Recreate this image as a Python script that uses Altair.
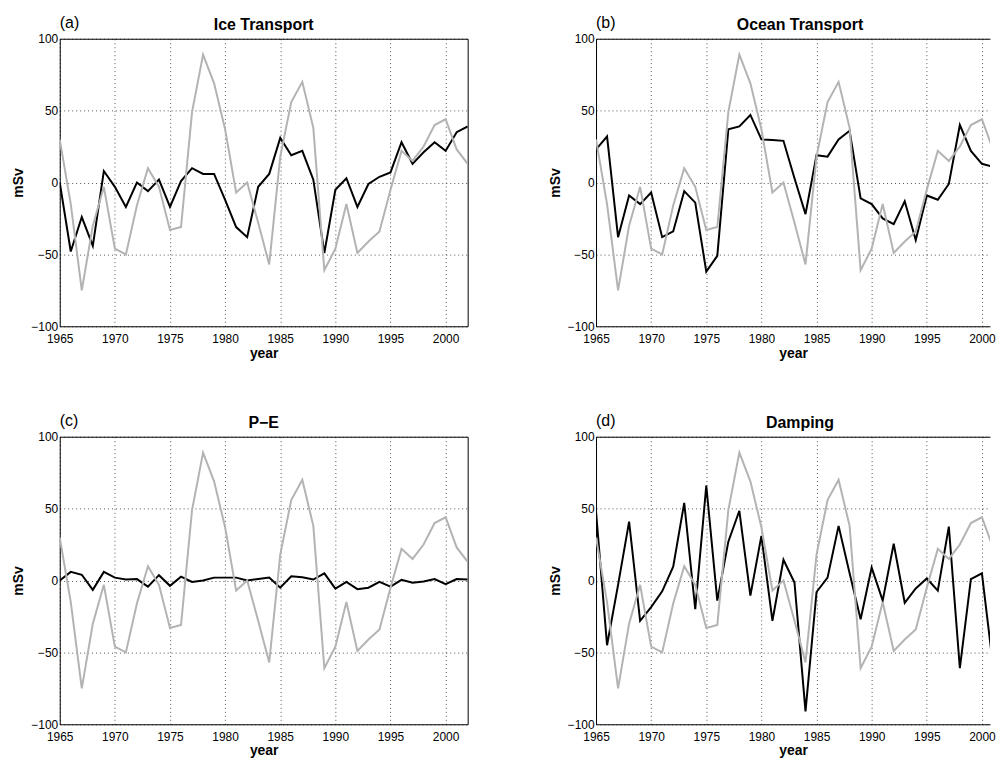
import altair as alt
import pandas as pd

# annual anomalies, mSv
YEARS = list(range(1965, 2003))

# grey curve, repeated in every panel
TOTAL = [30, -15, -75, -30, -3, -46, -50, -16, 10, -3, -33, -31, 49, 89, 69, 37,
         -7, 0, -28, -57, 18, 56, 70, 38, -61, -46, -15, -49, -41, -34, -5, 22,
         15, 25, 40, 44, 23, 13]

ICE = [0, -48, -24, -44, 8, -3, -17, 0, -6, 2, -17, 1, 10, 6, 6, -12, -31, -38,
       -3, 6, 31, 19, 22, 2, -49, -5, 3, -17, -1, 4, 7, 28, 13, 21, 28, 22, 35, 39]

OCEAN = [23, 32, -38, -9, -15, -7, -38, -34, -6, -14, -62, -51, 37, 39, 47, 30,
         29.5, 29, 3, -22, 19, 18, 30, 36, -11, -15, -25, -29, -13, -40, -9, -12,
         -1, 40, 22, 13, 11, 0]

PE = [0, 6, 4, -6.5, 6, 2, 0.7, 1, -4.3, 3.7, -3.7, 2.7, -1, 0, 2, 2, 2, 0, 1, 2,
      -5, 3, 2.3, 0.7, 5, -5.7, -1, -6, -5, -1, -4.3, 0.5, -1.6, -0.7, 1, -2.5, 1, 0.7]

DAMP = [48, -45, -3, 41, -28, -18.5, -7.5, 9.6, 54, -20, 66, -14, 27, 48.5, -10.5,
        31, -28, 14.4, -1.4, -91, -8, 2, 38, 5, -27, 9, -14, 25.6, -15.5, -5.5, 1.4,
        -7, 37.5, -61, 1, 5, -59, -1]

XTICKS = [1965, 1970, 1975, 1980, 1985, 1990, 1995, 2000]
YTICKS = [-100, -50, 0, 50, 100]

GREY = "#b3b3b3"
FONT = "Liberation Sans"
W, H = 410, 289
# the right-hand column runs off the edge of the page in the original figure
W_CUT = 396
X_CUT = 1965 + 37 * W_CUT / W


def panel(tag, title, term, cut=False, title_pad=2):
    width = W_CUT if cut else W
    xmax = X_CUT if cut else 2002
    df = pd.DataFrame({"year": YEARS, "total": TOTAL, "term": term})
    xs = alt.Scale(domain=[1965, xmax], nice=False, zero=False)
    ys = alt.Scale(domain=[-100, 100], nice=False)
    base = alt.Chart(df)

    black = base.mark_line(color="black", strokeWidth=2, clip=True).encode(
        x=alt.X("year:Q", scale=xs,
                axis=alt.Axis(values=XTICKS, format="d", title="year",
                              labelFlush=False, titlePadding=title_pad)),
        y=alt.Y("term:Q", scale=ys, axis=alt.Axis(values=YTICKS, title="mSv")),
    )

    # top / right axes only carry the frame line
    top_axis = alt.Axis(orient="top", labels=False, ticks=False, grid=False, title=None)
    right_axis = alt.Axis(orient="right", labels=False, ticks=False, grid=False, title=None)
    grey = base.mark_line(color=GREY, strokeWidth=2, clip=True).encode(
        x=alt.X("year:Q", scale=xs, axis=top_axis),
        y=alt.Y("total:Q", scale=ys, axis=None if cut else right_axis),
    )

    lab = pd.DataFrame({"t": [title], "tag": [tag]})
    head = alt.Chart(lab).mark_text(
        font=FONT, fontSize=16, fontWeight="bold", baseline="top", align="center"
    ).encode(x=alt.value(W / 2), y=alt.value(-22), text="t:N")
    letter = alt.Chart(lab).mark_text(
        font=FONT, fontSize=16, baseline="top", align="left"
    ).encode(x=alt.value(0), y=alt.value(-24), text="tag:N")

    return (
        alt.layer(black, grey, head, letter)
        .resolve_axis(x="independent", y="independent")
        .properties(width=width, height=H)
    )


top = alt.hconcat(
    panel("(a)", "Ice Transport", ICE),
    panel("(b)", "Ocean Transport", OCEAN, cut=True),
    spacing=80,
)
bottom = alt.hconcat(
    panel("(c)", "P−E", PE, title_pad=1),
    panel("(d)", "Damping", DAMP, cut=True, title_pad=1),
    spacing=80,
)

chart = (
    alt.vconcat(top, bottom, spacing=53)
    .properties(padding={"left": 3, "top": 5, "right": 0, "bottom": 0})
    .configure_view(stroke=None)
    .configure_axis(
        domain=True,
        domainColor="black",
        domainWidth=1,
        ticks=False,
        grid=True,
        gridColor="#555555",
        gridDash=[1, 3],
        gridWidth=1,
        labelFont=FONT,
        labelFontSize=12,
        labelColor="black",
        titleFont=FONT,
        titleFontSize=14,
        titleFontWeight="bold",
        titleColor="black",
    )
    .configure_axisX(labelPadding=7)
    .configure_axisY(labelPadding=2, titlePadding=5)
)

chart.save("out.html", embed_options={"renderer": "svg", "actions": False})
